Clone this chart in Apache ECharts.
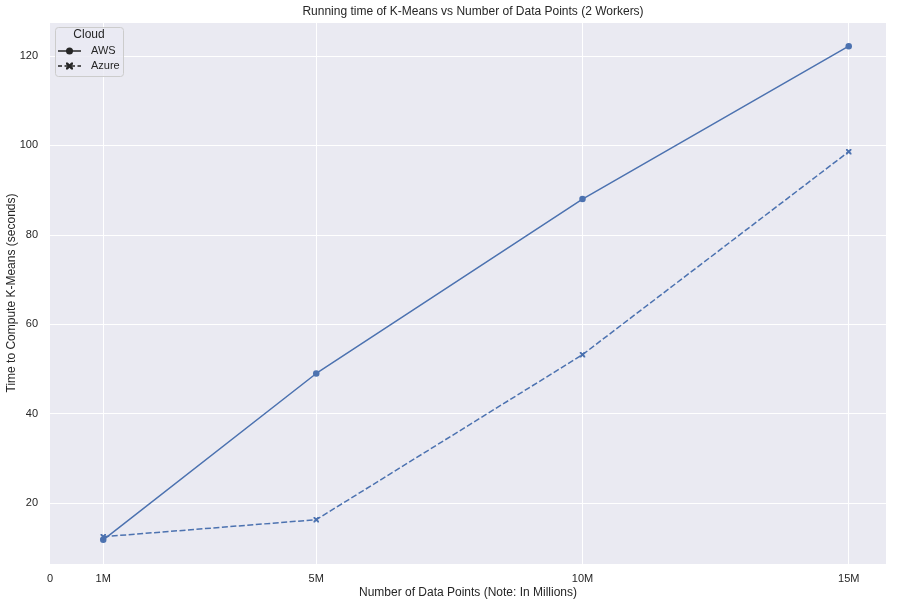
<!DOCTYPE html>
<html>
<head>
<meta charset="utf-8">
<script src="https://cdn.jsdelivr.net/npm/echarts@6/dist/echarts.min.js"></script>
<style>
html,body{margin:0;padding:0;background:#fff;}
#chart{width:899px;height:605px;}
</style>
</head>
<body>
<div id="chart"></div>
<script>
// Data (x in millions of data points)
const xPoints = [1, 5, 10, 15];
const awsTimes = [11.8, 49.0, 88.0, 122.2];
const azureTimes = [12.5, 16.3, 53.2, 98.6];
const xTickValues = [0, 1, 5, 10, 15];
const xTickLabels = ['0', '1M', '5M', '10M', '15M'];
const seriesNames = ['AWS', 'Azure'];
const legendTitle = 'Cloud';

const FONT = 'Liberation Sans, Arial, sans-serif';
const TXT = '#262626';
const BLUE = '#4C72B0';
const xMark = 'path://M0,0L2.5,0L5,2.5L7.5,0L10,0L10,2.5L7.5,5L10,7.5L10,10L7.5,10L5,7.5L2.5,10L0,10L0,7.5L2.5,5L0,2.5Z';

// X-shaped polygon for legend key (unit shape, 10x10)
const xUnit = [[0,0],[2.5,0],[5,2.5],[7.5,0],[10,0],[10,2.5],[7.5,5],[10,7.5],[10,10],[7.5,10],[5,7.5],[2.5,10],[0,10],[0,7.5],[2.5,5],[0,2.5]];
function xPolygon(cx, cy, size) {
  return xUnit.map(p => [cx + (p[0] - 5) * size / 10, cy + (p[1] - 5) * size / 10]);
}

const chart = echarts.init(document.getElementById('chart'), null, {renderer: 'canvas'});

// legend drawn as graphic elements (seaborn-style legend with title)
const legendGraphic = [
  {type: 'rect', z: 8, shape: {x: 55.5, y: 27.5, width: 68, height: 49, r: 3},
   style: {fill: 'rgba(234,234,242,0.8)', stroke: '#cccccc', lineWidth: 1}},
  {type: 'text', z: 9, x: 89, y: 35,
   style: {text: legendTitle, fill: TXT, font: '12px ' + FONT, textAlign: 'center', textVerticalAlign: 'middle'}},
  {type: 'line', z: 9, shape: {x1: 58, y1: 51, x2: 81, y2: 51},
   style: {stroke: '#262626', lineWidth: 1.5}},
  {type: 'circle', z: 10, shape: {cx: 69.5, cy: 51, r: 3.5}, style: {fill: '#262626'}},
  {type: 'text', z: 9, x: 91, y: 51,
   style: {text: seriesNames[0], fill: TXT, font: '11px ' + FONT, textVerticalAlign: 'middle'}},
  {type: 'line', z: 9, shape: {x1: 58, y1: 66, x2: 81, y2: 66},
   style: {stroke: '#262626', lineWidth: 1.5, lineDash: [4, 2.5]}},
  {type: 'polygon', z: 10, shape: {points: xPolygon(69.5, 66, 7)}, style: {fill: '#262626'}},
  {type: 'text', z: 9, x: 91, y: 66,
   style: {text: seriesNames[1], fill: TXT, font: '11px ' + FONT, textVerticalAlign: 'middle'}}
];

const option = {
  animation: false,
  backgroundColor: '#ffffff',
  textStyle: {fontFamily: FONT, color: TXT},
  title: {
    text: 'Running time of K-Means vs Number of Data Points (2 Workers)',
    left: 468, top: 1, textAlign: 'center',
    textStyle: {fontFamily: FONT, fontSize: 12, fontWeight: 'normal', color: TXT}
  },
  grid: {
    left: 50, right: 13, top: 22, bottom: 41,
    outerBoundsMode: 'none', containLabel: false,
    show: true, backgroundColor: '#EAEAF2', borderWidth: 0
  },
  xAxis: {
    type: 'value', min: 0, max: 15.7, interval: 1,
    name: 'Number of Data Points (Note: In Millions)',
    nameLocation: 'middle', nameGap: 23, nameMoveOverlap: false,
    nameTextStyle: {fontFamily: FONT, fontSize: 12, color: TXT},
    axisLine: {show: false}, axisTick: {show: false},
    splitLine: {show: false},
    axisLabel: {
      fontFamily: FONT, fontSize: 11, color: TXT, margin: 9,
      showMaxLabel: false,
      formatter: function (v) {
        const i = xTickValues.indexOf(Math.round(v * 1000) / 1000);
        return i >= 0 ? xTickLabels[i] : '';
      }
    }
  },
  yAxis: {
    type: 'value', min: 6.4, max: 127.6, splitNumber: 6,
    name: 'Time to Compute K-Means (seconds)',
    nameLocation: 'middle', nameGap: 32, nameRotate: 90, nameMoveOverlap: false,
    nameTextStyle: {fontFamily: FONT, fontSize: 12, color: TXT},
    axisLine: {show: false}, axisTick: {show: false},
    splitLine: {show: true, lineStyle: {color: '#ffffff', width: 1}},
    axisLabel: {fontFamily: FONT, fontSize: 11, color: TXT, margin: 12, showMinLabel: false, showMaxLabel: false}
  },
  graphic: legendGraphic,
  series: [
    {
      name: 'grid-x', type: 'line', data: [], z: 0, silent: true,
      markLine: {
        z: 0, silent: true, symbol: 'none', label: {show: false},
        lineStyle: {color: '#ffffff', width: 1, type: 'solid'},
        data: xTickValues.filter(v => v > 0).map(v => ({xAxis: v}))
      }
    },
    {
      name: seriesNames[0], type: 'line', z: 5,
      data: xPoints.map((x, i) => [x, awsTimes[i]]),
      symbol: 'circle', symbolSize: 6.5, showAllSymbol: true,
      lineStyle: {color: BLUE, width: 1.5, type: 'solid'},
      itemStyle: {color: BLUE, borderWidth: 0}
    },
    {
      name: seriesNames[1], type: 'line', z: 5,
      data: xPoints.map((x, i) => [x, azureTimes[i]]),
      symbol: xMark, symbolSize: 5.5, showAllSymbol: true,
      lineStyle: {color: BLUE, width: 1.5, type: [6, 2.5]},
      itemStyle: {color: BLUE, borderWidth: 0}
    }
  ]
};
chart.setOption(option);
</script>
</body>
</html>
